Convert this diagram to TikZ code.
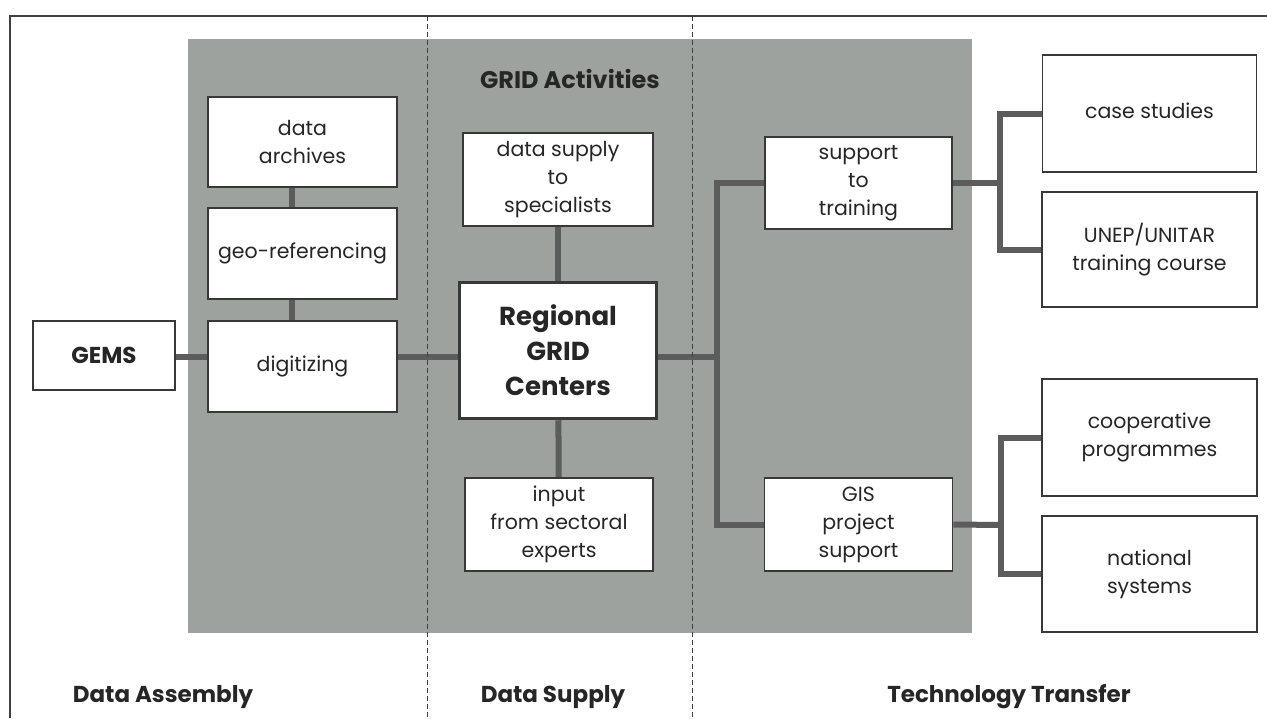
\documentclass[tikz,border=0pt]{standalone}
\usepackage{fontspec}
\setmainfont{Poppins}
\usetikzlibrary{backgrounds}
\begin{document}
\begin{tikzpicture}[x=1pt,y=-1pt,
  box/.style={draw=black!78,line width=1.8pt,fill=white,align=center,inner sep=0pt,
    text=black!85,font=\fontsize{20.5}{28}\selectfont},
  conn/.style={draw=black!64,line width=6pt,line join=miter},
  sect/.style={font=\bfseries\fontsize{23}{26}\selectfont,text=black!85},
  divider/.style={draw=black!75,line width=1pt,dash pattern=on 5pt off 3pt},
  frame/.style={draw=black!75,line width=1.2pt}]
\definecolor{panelgray}{RGB}{158,162,158}
\useasboundingbox (0,0) rectangle (1267,718);
% title
\node[sect,font=\bfseries\fontsize{24}{26}\selectfont] (title) at (570,79) {GRID Activities};
% boxes
\node[box,minimum width=189pt,minimum height=90pt] (arch) at (302.5,142) {data\\archives};
\node[box,minimum width=189pt,minimum height=91pt] (geo) at (302.5,253.5) {geo-referencing};
\node[box,minimum width=189pt,minimum height=91pt] (dig) at (302.5,366.5) {digitizing};
\node[box,minimum width=142pt,minimum height=69pt,font=\bfseries\fontsize{23}{26}\selectfont] (gems) at (104,355.5) {GEMS};
\node[box,minimum width=190pt,minimum height=93pt] (sup) at (558,179.5) {data supply\\to\\specialists};
\node[box,minimum width=197pt,minimum height=136pt,line width=3.5pt,font=\bfseries\fontsize{26}{35}\selectfont] (reg) at (558,350.5) {Regional\\GRID\\Centers};
\node[box,minimum width=188pt,minimum height=93pt] (inp) at (559,524.5) {input\\from sectoral\\experts};
\node[box,minimum width=187pt,minimum height=92pt] (st) at (858.5,183) {support\\to\\training};
\node[box,minimum width=188pt,minimum height=93pt] (gis) at (858.5,524.5) {GIS\\project\\support};
\node[box,minimum width=214pt,minimum height=117pt] (cs) at (1149.5,113.5) {\raisebox{5pt}{case studies}};
\node[box,minimum width=215pt,minimum height=115pt] (un) at (1149.5,249.5) {UNEP/UNITAR\\training course};
\node[box,minimum width=215pt,minimum height=117pt] (co) at (1149.5,437.5) {cooperative\\programmes};
\node[box,minimum width=215pt,minimum height=116pt] (na) at (1149.5,574) {national\\systems};
% section labels
\node[sect] (la) at (163,697) {Data Assembly};
\node[sect] (ls) at (553,697) {Data Supply};
\node[sect] (lt) at (1009,697) {Technology Transfer};
% hub coordinates
\coordinate (hy) at (0,357);
\coordinate (b1) at (717,357);
\coordinate (b2) at (1000,183);
\coordinate (b3) at (1001,525);
\begin{scope}[on background layer]
  \fill[white] (0,0) rectangle (1267,718);
  \draw[frame] (10,718) -- (10,16) -- (1267,16);
  \fill[panelgray] (188,39) rectangle (972,633);
  % connectors
  \draw[conn] (gems.east |- hy) -- (dig.west |- hy);
  \draw[conn] (dig.east |- hy) -- (reg.west |- hy);
  \draw[conn] ([xshift=-11pt]arch.south) -- ([xshift=-11pt]geo.north);
  \draw[conn] ([xshift=-11pt]geo.south) -- ([xshift=-11pt]dig.north);
  \draw[conn] (sup) -- (reg);
  \draw[conn] (reg) -- (inp);
  \draw[conn] (reg.east |- hy) -- (b1);
  \draw[conn] (st.west) -| (b1) |- (gis.west);
  \draw[conn] (st.east) -- (b2);
  \draw[conn] (cs.west) -| (b2) |- (un.west);
  \draw[conn] (gis.east) -- (b3);
  \draw[conn] (co.west) -| (b3) |- (na.west);
  % dividers
  \draw[divider] (427,16) -- (427,718);
  \draw[divider] (692,16) -- (692,718);
\end{scope}
\end{tikzpicture}
\end{document}
